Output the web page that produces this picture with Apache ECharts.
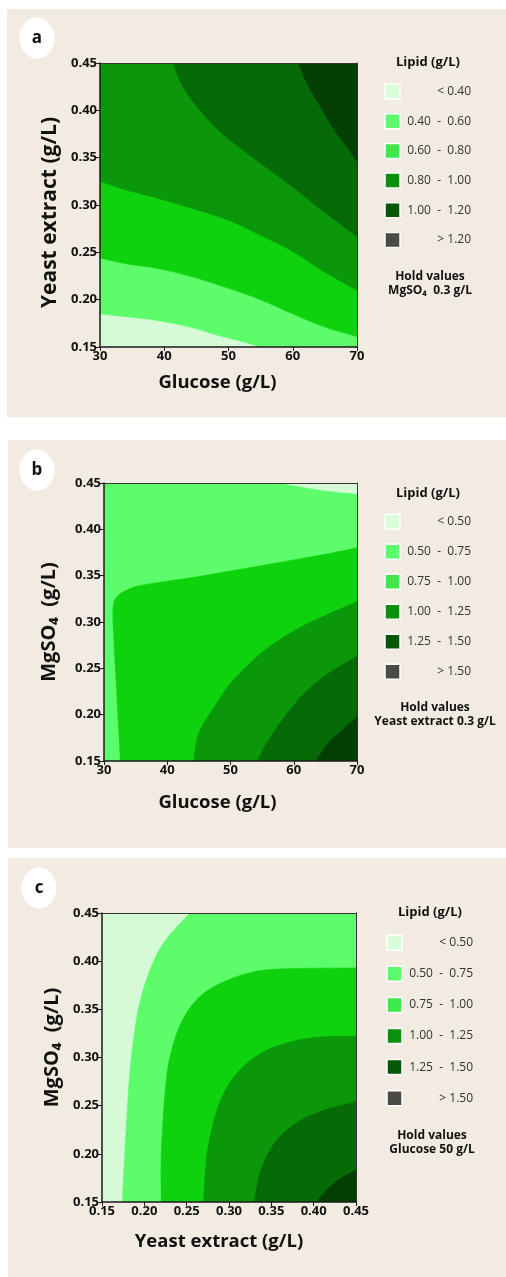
<!DOCTYPE html>
<html><head><meta charset="utf-8">
<script src="https://cdn.jsdelivr.net/npm/echarts@6/dist/echarts.min.js"></script>
<style>html,body{margin:0;padding:0;background:#fff}#c{width:506px;height:1277px}</style>
</head><body><div id="c"></div>
<script>
// ---------- tick labels ----------
const glucoseTicks = ['30','40','50','60','70'];
const concTicks = ['0.15','0.20','0.25','0.30','0.35','0.40','0.45'];

// ---------- legend ----------
const legendColors = ['#d9fcd9','#5cfb6b','#3ee84a','#0a900a','#065806','#4b4b46'];
const legendLabelsA = ['< 0.40','0.40  -  0.60','0.60  -  0.80','0.80  -  1.00','1.00  -  1.20','> 1.20'];
const legendLabelsBC = ['< 0.50','0.50  -  0.75','0.75  -  1.00','1.00  -  1.25','1.25  -  1.50','> 1.50'];

// ---------- plot colours (lightest -> darkest) ----------
const plotColors = ['#d6fad6','#5dfc6b','#0fd20f','#0a970a','#066a06','#033f03'];

// ---------- contour boundaries, panel a (x: Glucose, y: Yeast extract) ----------
const aB1 = [[30,0.185],[34,0.182],[39,0.178],[44,0.171],[48,0.163],[52,0.156],[55,0.15]];
const aB2 = [[30,0.244],[34,0.238],[39,0.233],[44.5,0.224],[50,0.212],[55,0.2],[60,0.185],[65,0.171],[70,0.161]];
const aB3 = [[30,0.325],[34,0.316],[39,0.307],[44.5,0.296],[50,0.284],[55,0.268],[60,0.251],[65,0.229],[70,0.21]];
const aB4 = [[41.4,0.45],[42.5,0.43],[44.5,0.409],[47,0.389],[50,0.37],[55,0.344],[60,0.319],[65,0.292],[70,0.267]];
const aB5 = [[60.8,0.45],[62.2,0.429],[64.3,0.404],[66.4,0.38],[68.4,0.362],[70,0.346]];

// ---------- contour boundaries, panel b (x: Glucose, y: MgSO4) ----------
const bB0 = [[58.2,0.45],[60,0.4475],[65,0.442],[70,0.4385]];
const bB1 = [[32.6,0.15],[32.2,0.2],[31.8,0.25],[31.5,0.29],[31.4,0.31],[31.6,0.322],[32.3,0.329],[33.5,0.334],[35.5,0.339],[40,0.344],[45,0.349],[50,0.355],[55,0.361],[60,0.367],[65,0.373],[70,0.38]];
const bB2 = [[44.2,0.15],[45,0.18],[47.8,0.212],[50.4,0.237],[55.7,0.271],[61,0.294],[66,0.31],[70,0.322]];
const bB3 = [[54.2,0.15],[56.7,0.18],[59.4,0.205],[62,0.225],[65.2,0.243],[70,0.263]];
const bB4 = [[63.5,0.15],[65.7,0.171],[67.8,0.184],[70,0.198]];

// ---------- contour boundaries, panel c (x: Yeast extract, y: MgSO4) ----------
const cB1 = [[0.254,0.45],[0.227,0.424],[0.211,0.40],[0.197,0.365],[0.189,0.33],[0.183,0.285],[0.179,0.233],[0.174,0.15]];
const cB2 = [[0.22,0.15],[0.22,0.2],[0.225,0.268],[0.231,0.303],[0.244,0.337],[0.264,0.362],[0.29,0.377],[0.325,0.388],[0.364,0.392],[0.45,0.393]];
const cB3 = [[0.27,0.15],[0.274,0.199],[0.284,0.24],[0.297,0.268],[0.315,0.289],[0.341,0.306],[0.372,0.316],[0.404,0.321],[0.45,0.322]];
const cB4 = [[0.33,0.15],[0.337,0.181],[0.352,0.209],[0.376,0.23],[0.408,0.244],[0.45,0.254]];
const cB5 = [[0.403,0.15],[0.417,0.164],[0.431,0.174],[0.45,0.183]];

// axis extents
const gluMin = 30, gluMax = 70, conMin = 0.15, conMax = 0.45;

function box(x0,x1,y0,y1){return [[x0,y0],[x1,y0],[x1,y1],[x0,y1]];}

const regionsA = [
  {curve: null, close: box(gluMin,gluMax,conMin,conMax), c: plotColors[0]},
  {curve: aB1, close: [[gluMax,conMin],[gluMax,conMax],[gluMin,conMax]], c: plotColors[1]},
  {curve: aB2, close: [[gluMax,conMax],[gluMin,conMax]], c: plotColors[2]},
  {curve: aB3, close: [[gluMax,conMax],[gluMin,conMax]], c: plotColors[3]},
  {curve: aB4, close: [[gluMax,conMax]], c: plotColors[4]},
  {curve: aB5, close: [[gluMax,conMax]], c: plotColors[5]}
];
const regionsB = [
  {curve: null, close: box(gluMin,gluMax,conMin,conMax), c: plotColors[1]},
  {curve: bB0, close: [[gluMax,conMax]], c: plotColors[0]},
  {curve: bB1, close: [[gluMax,conMin]], c: plotColors[2]},
  {curve: bB2, close: [[gluMax,conMin]], c: plotColors[3]},
  {curve: bB3, close: [[gluMax,conMin]], c: plotColors[4]},
  {curve: bB4, close: [[gluMax,conMin]], c: plotColors[5]}
];
const regionsC = [
  {curve: null, close: box(conMin,conMax,conMin,conMax), c: plotColors[0]},
  {curve: cB1, close: [[conMax,conMin],[conMax,conMax]], c: plotColors[1]},
  {curve: cB2, close: [[conMax,conMin]], c: plotColors[2]},
  {curve: cB3, close: [[conMax,conMin]], c: plotColors[3]},
  {curve: cB4, close: [[conMax,conMin]], c: plotColors[4]},
  {curve: cB5, close: [[conMax,conMin]], c: plotColors[5]}
];

const FONT = '"Open Sans", "DejaVu Sans", sans-serif';
const AX = '#1a1a1a';

// smooth path through pixel points (Catmull-Rom rendered as cubic Beziers)
function smoothPath(px){
  let d = 'M' + px[0][0] + ',' + px[0][1];
  const n = px.length;
  for (let i = 0; i < n - 1; i++){
    const p0 = px[Math.max(i-1,0)], p1 = px[i], p2 = px[i+1], p3 = px[Math.min(i+2,n-1)];
    const c1 = [p1[0] + (p2[0]-p0[0])/6, p1[1] + (p2[1]-p0[1])/6];
    const c2 = [p2[0] - (p3[0]-p1[0])/6, p2[1] - (p3[1]-p1[1])/6];
    d += 'C' + c1[0] + ',' + c1[1] + ',' + c2[0] + ',' + c2[1] + ',' + p2[0] + ',' + p2[1];
  }
  return d;
}

function contour(gi, regions){
  return {
    type: 'custom', xAxisIndex: gi*2, yAxisIndex: gi*2, clip: true, silent: true,
    data: regions.map((r,i)=>{const p = (r.curve || r.close)[0]; return [p[0], p[1], i];}),
    renderItem: function(params, api){
      const r = regions[params.dataIndex];
      const cl = r.close.map(p=>api.coord(p));
      let d;
      if (r.curve){
        d = smoothPath(r.curve.map(p=>api.coord(p)));
      } else {
        d = 'M' + cl[0][0] + ',' + cl[0][1];
        cl.shift();
      }
      cl.forEach(p=>{ d += 'L' + p[0] + ',' + p[1]; });
      d += 'Z';
      return {type:'path', shape:{pathData: d},
              style:{fill:r.c, stroke:r.c, lineWidth:0.6}};
    }
  };
}

function xAxes(gi, min, max, interval, ticks, name, gap, pad){
  return [{
    type:'value', gridIndex: gi, min, max, interval, position:'bottom', z: 5,
    axisLine:{show:true, onZero:false, lineStyle:{color:AX, width:1.5}},
    axisTick:{show:true, length:4, lineStyle:{color:AX, width:1}},
    axisLabel:{color:'#111', fontSize:13, fontWeight:'bold', fontFamily:FONT, margin:3,
      formatter:(v,i)=>ticks[i]},
    splitLine:{show:false},
    name, nameLocation:'middle', nameGap: gap,
    nameTextStyle:{color:'#111', fontSize:18.5, fontWeight:'bold', fontFamily:FONT, padding:pad}
  },{
    type:'value', gridIndex: gi, min, max, interval, position:'top', z: 5,
    axisLine:{show:true, onZero:false, lineStyle:{color:'#333', width:1}},
    axisTick:{show:false}, axisLabel:{show:false}, splitLine:{show:false}
  }];
}
function yAxes(gi, ticks, name, gap, fs, pad){
  return [{
    type:'value', gridIndex: gi, min:conMin, max:conMax, interval:0.05, position:'left', z: 5,
    axisLine:{show:true, onZero:false, lineStyle:{color:AX, width:1.5}},
    axisTick:{show:true, length:4, lineStyle:{color:AX, width:1}},
    axisLabel:{color:'#111', fontSize:13, fontWeight:'bold', fontFamily:FONT, margin:3,
      formatter:(v,i)=>ticks[i]},
    splitLine:{show:false},
    name, nameLocation:'middle', nameGap: gap,
    nameTextStyle:{color:'#111', fontSize:fs, fontWeight:'bold', fontFamily:FONT, padding:pad}
  },{
    type:'value', gridIndex: gi, min:conMin, max:conMax, interval:0.05, position:'right', z: 5,
    axisLine:{show:true, onZero:false, lineStyle:{color:'#333', width:1}},
    axisTick:{show:false}, axisLabel:{show:false}, splitLine:{show:false}
  }];
}

const grids = [
  {left:100, top:63, width:257, height:284},
  {left:104, top:483, width:253, height:278},
  {left:102, top:913, width:254, height:289}
];

// ---------- decorations (cards, panel letters, legends) ----------
const BG = '#f2ebe1';
const els = [];
[[7,9,499,408],[8,440,498,408],[8,858,498,419]].forEach(r=>{
  els.push({type:'rect', z:-10, shape:{x:r[0],y:r[1],width:r[2],height:r[3]}, style:{fill:BG}});
});
const letters = ['a','b','c'];
[[37,38],[37,470],[39,888]].forEach((p,i)=>{
  els.push({type:'ellipse', z:1, shape:{cx:p[0],cy:p[1],rx:17.5,ry:20.5}, style:{fill:'#fff'}});
  els.push({type:'text', z:2, style:{text:letters[i], x:p[0], y:p[1], textAlign:'center', textVerticalAlign:'middle',
    align:'center', verticalAlign:'middle', fill:'#111', font:'bold 17px '+FONT}});
});
function legend(cx, titleY, swX, firstY, step, labelRight, labels, hold1, hold2, holdX, holdY){
  els.push({type:'text', z:2, style:{text:'Lipid (g/L)', x:cx, y:titleY, textAlign:'center', textVerticalAlign:'middle',
    align:'center', verticalAlign:'middle', fill:'#111', font:'bold 13px '+FONT}});
  labels.forEach((t,i)=>{
    const y = firstY + i*step;
    els.push({type:'rect', z:2, shape:{x:swX, y:y-7.5, width:15, height:15},
      style:{fill:legendColors[i], stroke:'#ffffff', lineWidth:1.5}});
    els.push({type:'text', z:2, style:{text:t, x:labelRight, y:y, textAlign:'right', textVerticalAlign:'middle',
      align:'right', verticalAlign:'middle', fill:'#333', font:'12px '+FONT}});
  });
  els.push({type:'text', z:2, style:{text:hold1, x:holdX, y:holdY, textAlign:'center', textVerticalAlign:'middle',
    align:'center', verticalAlign:'middle', fill:'#111', font:'bold 12px '+FONT}});
  els.push({type:'text', z:2, style:{text:hold2, x:holdX, y:holdY+14, textAlign:'center', textVerticalAlign:'middle',
    align:'center', verticalAlign:'middle', fill:'#111', font:'bold 12px '+FONT}});
}
legend(428, 62, 385, 91.5, 29.7, 471, legendLabelsA, 'Hold values', 'MgSO\u2084  0.3 g/L', 430, 277);
legend(428, 493, 385, 521.7, 30, 471, legendLabelsBC, 'Hold values', 'Yeast extract 0.3 g/L', 435, 708);
legend(430, 912, 387, 942.7, 31.1, 473, legendLabelsBC, 'Hold values', 'Glucose 50 g/L', 432, 1136);

const chart = echarts.init(document.getElementById('c'), null, {renderer:'canvas'});
chart.setOption({
  backgroundColor:'#ffffff',
  animation:false,
  grid: grids,
  xAxis: [].concat(
    xAxes(0, gluMin, gluMax, 10, glucoseTicks, 'Glucose (g/L)', 26, [0,22,0,0]),
    xAxes(1, gluMin, gluMax, 10, glucoseTicks, 'Glucose (g/L)', 32, [0,26,0,0]),
    xAxes(2, conMin, conMax, 0.05, concTicks, 'Yeast extract (g/L)', 30, [0,20,0,0])
  ),
  yAxis: [].concat(
    yAxes(0, concTicks, 'Yeast extract (g/L)', 38, 21, [0,15,0,0]),
    yAxes(1, concTicks, 'MgSO\u2084  (g/L)', 45, 20, [0,0,0,0]),
    yAxes(2, concTicks, 'MgSO\u2084  (g/L)', 40, 20, [0,0,0,20])
  ),
  series: [contour(0, regionsA), contour(1, regionsB), contour(2, regionsC)],
  graphic: {elements: els}
});
</script></body></html>
